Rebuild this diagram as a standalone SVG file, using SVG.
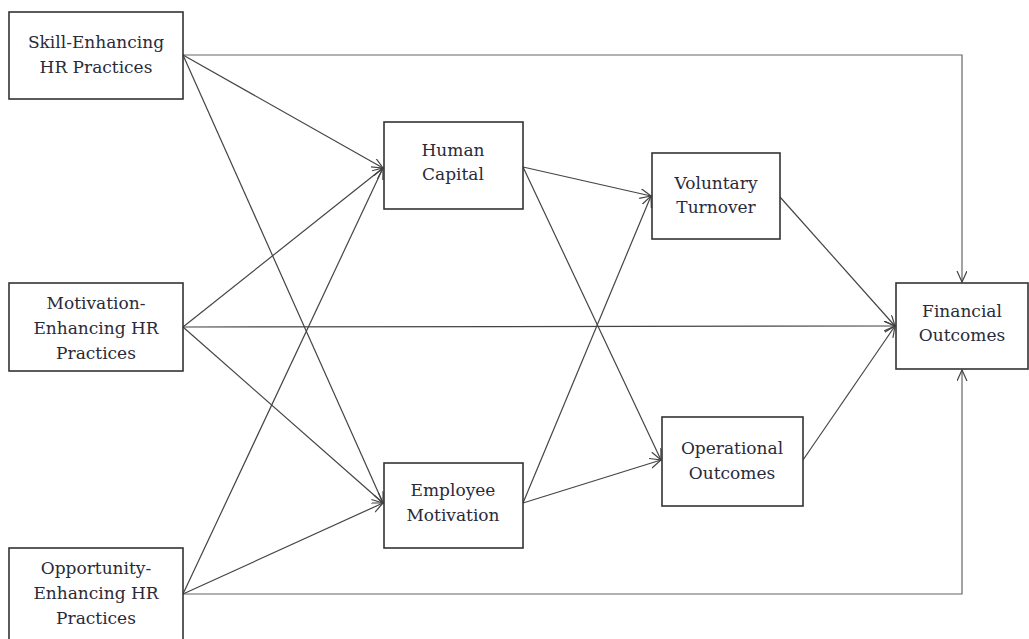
<svg xmlns="http://www.w3.org/2000/svg" width="1029" height="639" viewBox="0 0 1029 639">
<style>
.box{fill:#fff;stroke:#333;stroke-width:1.6}
.lbl{font-family:"DejaVu Serif","Liberation Serif",serif;font-size:17px;fill:#2a2a3a;text-anchor:middle}
.c{fill:none;stroke:#444;stroke-width:1.2;marker-end:url(#ah)}
</style>
<defs>
<marker id="ah" markerUnits="userSpaceOnUse" markerWidth="14" markerHeight="12" refX="11" refY="5" orient="auto">
<path d="M0,0 L11,5 L0,10" fill="none" stroke="#444" stroke-width="1.2"/>
</marker>
</defs>
<rect width="1029" height="639" fill="#fff"/>
<g id="connectors">
<polyline class="c" points="183,55 962,55 962,282" style="stroke:#666"/>
<polyline class="c" points="183,594 962,594 962,370" style="stroke:#666"/>
<line class="c" x1="183" y1="55" x2="383" y2="168"/>
<line class="c" x1="183" y1="55" x2="383" y2="503"/>
<line class="c" x1="183" y1="327" x2="383" y2="168"/>
<line class="c" x1="183" y1="327" x2="895" y2="326"/>
<line class="c" x1="183" y1="327" x2="383" y2="503"/>
<line class="c" x1="183" y1="594" x2="383" y2="168"/>
<line class="c" x1="183" y1="594" x2="383" y2="503"/>
<line class="c" x1="523" y1="167" x2="651" y2="196"/>
<line class="c" x1="523" y1="167" x2="661" y2="460"/>
<line class="c" x1="523" y1="503" x2="651" y2="196"/>
<line class="c" x1="523" y1="503" x2="661" y2="460"/>
<line class="c" x1="780" y1="197" x2="895" y2="326"/>
<line class="c" x1="803" y1="460" x2="895" y2="326"/>
</g>
<g id="skill">
<rect class="box" x="9" y="12" width="174" height="87"/>
<text class="lbl" x="96" y="48">Skill-Enhancing</text>
<text class="lbl" x="96" y="73">HR Practices</text>
</g>
<g id="motivation">
<rect class="box" x="9" y="283" width="174" height="88"/>
<text class="lbl" x="96" y="309">Motivation-</text>
<text class="lbl" x="96" y="334">Enhancing HR</text>
<text class="lbl" x="96" y="359">Practices</text>
</g>
<g id="opportunity">
<rect class="box" x="9" y="548" width="174" height="95"/>
<text class="lbl" x="96" y="574">Opportunity-</text>
<text class="lbl" x="96" y="599">Enhancing HR</text>
<text class="lbl" x="96" y="624">Practices</text>
</g>
<g id="human-capital">
<rect class="box" x="384" y="122" width="139" height="87"/>
<text class="lbl" x="453" y="156">Human</text>
<text class="lbl" x="453" y="180">Capital</text>
</g>
<g id="employee-motivation">
<rect class="box" x="384" y="463" width="139" height="85"/>
<text class="lbl" x="453" y="496">Employee</text>
<text class="lbl" x="453" y="521">Motivation</text>
</g>
<g id="voluntary-turnover">
<rect class="box" x="652" y="153" width="128" height="86"/>
<text class="lbl" x="716" y="189">Voluntary</text>
<text class="lbl" x="716" y="213">Turnover</text>
</g>
<g id="operational-outcomes">
<rect class="box" x="662" y="417" width="141" height="89"/>
<text class="lbl" x="732" y="454">Operational</text>
<text class="lbl" x="732" y="479">Outcomes</text>
</g>
<g id="financial-outcomes">
<rect class="box" x="896" y="283" width="132" height="86"/>
<text class="lbl" x="962" y="317">Financial</text>
<text class="lbl" x="962" y="341">Outcomes</text>
</g>
</svg>
